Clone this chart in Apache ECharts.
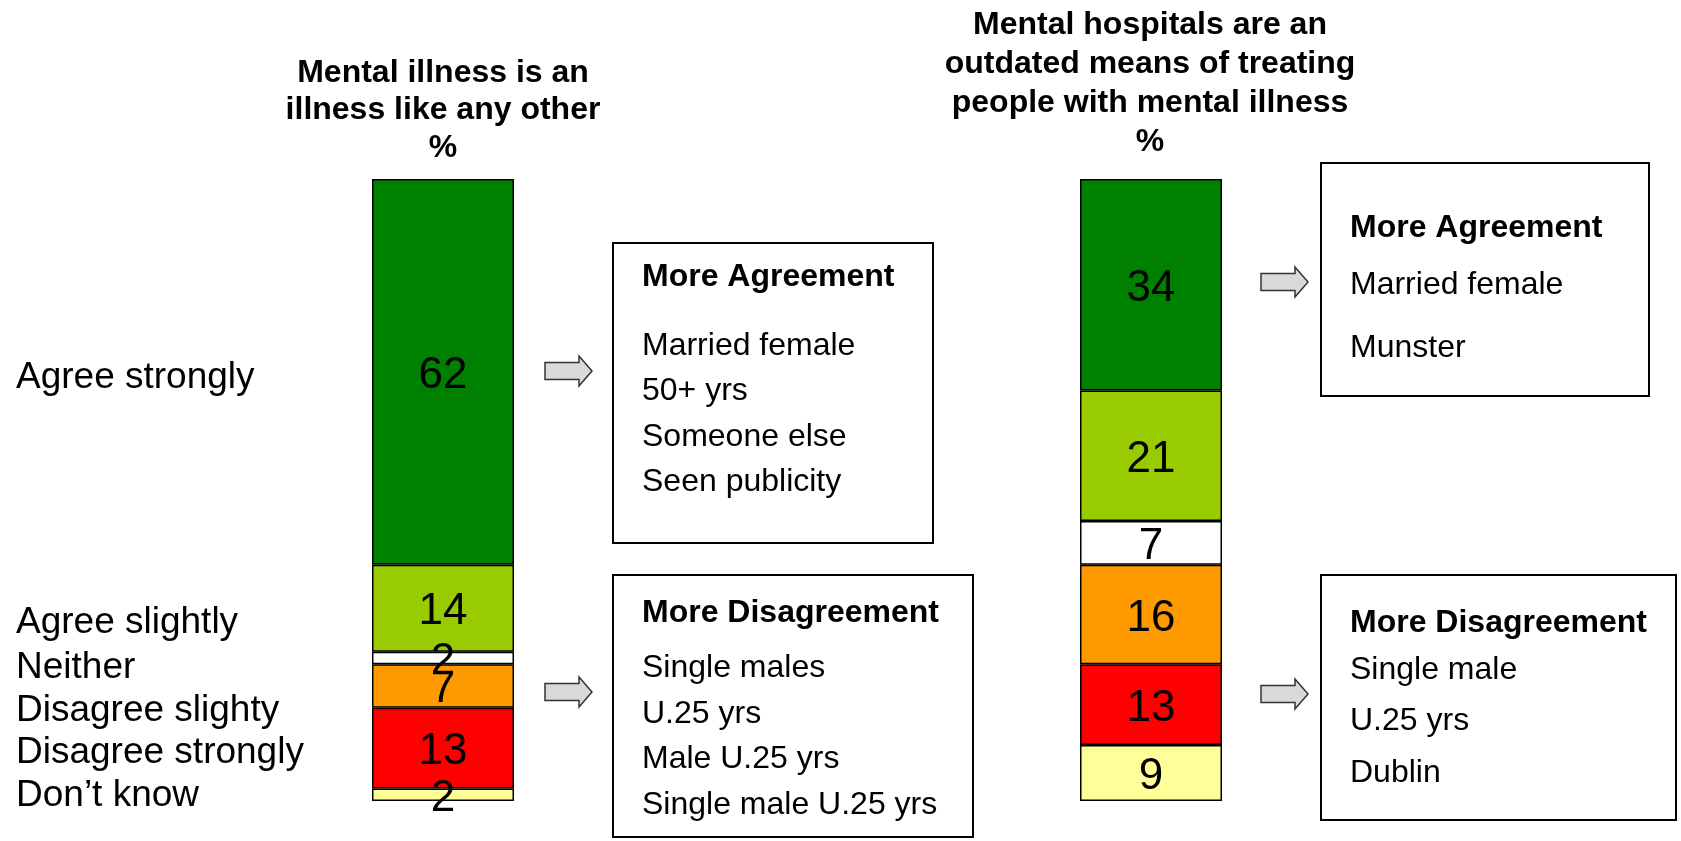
<!DOCTYPE html>
<html>
<head>
<meta charset="utf-8">
<title>Mental illness attitudes</title>
<script src="https://cdn.jsdelivr.net/npm/echarts@6/dist/echarts.min.js"></script>
<style>
  html, body { margin: 0; padding: 0; background: #fff; }
  #chart { width: 1681px; height: 841px; }
</style>
</head>
<body>
<div id="chart"></div>
<script>
// answer categories, top to bottom of each bar
const categories = ['Agree strongly', 'Agree slightly', 'Neither', 'Disagree slighty', 'Disagree strongly', 'Don’t know']
const illnessValues = [62, 14, 2, 7, 13, 2]
const hospitalValues = [34, 21, 7, 16, 13, 9]

const illnessTitle = ['Mental illness is an', 'illness like any other', '%']
const hospitalTitle = ['Mental hospitals are an', 'outdated means of treating', 'people with mental illness', '%']

const illnessAgree = ['Married female', '50+ yrs', 'Someone else', 'Seen publicity']
const illnessDisagree = ['Single males', 'U.25 yrs', 'Male U.25 yrs', 'Single male U.25 yrs']
const hospitalAgree = ['Married female', 'Munster']
const hospitalDisagree = ['Single male', 'U.25 yrs', 'Dublin']

const segmentColors = ['#008000', '#99cc00', '#ffffff', '#ff9900', '#ff0000', '#ffff99']
const FONT = '"Liberation Sans", Arial, sans-serif'
const DY = 3 // 'middle' sits a bit above the cap centre

const chart = echarts.init(document.getElementById('chart'), null, { renderer: 'canvas' })

const bars = [
  { values: illnessValues, left: 372 },
  { values: hospitalValues, left: 1080 }
]

const series = []
bars.forEach((b, g) => {
  categories.forEach((name, i) => {
    series.push({
      name: name,
      type: 'bar',
      stack: 'bar' + g,
      xAxisIndex: g,
      yAxisIndex: g,
      barWidth: '100%',
      data: [b.values[i]],
      itemStyle: { color: segmentColors[i], borderColor: '#000', borderWidth: 1.5 },
      label: {
        show: true,
        position: 'inside',
        offset: [0, 4],
        fontSize: 44,
        fontFamily: FONT,
        color: '#000'
      }
    })
  })
})

const graphics = []

const text = (str, x, y, size, bold, align) => {
  graphics.push({
    type: 'text',
    x: x,
    y: y + DY,
    style: {
      text: str,
      fill: '#000',
      font: (bold ? 'bold ' : '') + size + 'px ' + FONT,
      align: align || 'left',
      verticalAlign: 'middle'
    }
  })
}

// titles
const illnessTitleY = [70, 107, 145]
illnessTitle.forEach((t, i) => text(t, 443, illnessTitleY[i], 32, true, 'center'))
const hospitalTitleY = [22, 61, 100, 139]
hospitalTitle.forEach((t, i) => text(t, 1150, hospitalTitleY[i], 32, true, 'center'))

// row labels on the left
const rowLabelY = [375, 620, 665, 708, 750, 793]
categories.forEach((c, i) => text(c, 16, rowLabelY[i], 37, false))

// boxes
const box = (x, y, w, h, header, headerY, items, itemY) => {
  graphics.push({
    type: 'rect',
    shape: { x: x, y: y, width: w, height: h },
    style: { fill: '#fff', stroke: '#000', lineWidth: 2 }
  })
  text(header, x + 29, headerY, 32, true)
  items.forEach((t, i) => text(t, x + 29, itemY[i], 32, false))
}

box(613, 243, 320, 300, 'More Agreement', 274, illnessAgree, [343, 388, 434, 479])
box(613, 575, 360, 262, 'More Disagreement', 610, illnessDisagree, [665, 711, 756, 802])
box(1321, 163, 328, 233, 'More Agreement', 225, hospitalAgree, [282, 345])
box(1321, 575, 355, 245, 'More Disagreement', 620, hospitalDisagree, [667, 718, 770])

// block arrows
const arrow = (x0, cy) => {
  graphics.push({
    type: 'polygon',
    shape: {
      points: [
        [x0, cy - 8.5], [x0 + 34, cy - 8.5], [x0 + 34, cy - 15], [x0 + 47, cy],
        [x0 + 34, cy + 15], [x0 + 34, cy + 8.5], [x0, cy + 8.5]
      ]
    },
    style: { fill: '#d9d9d9', stroke: '#333', lineWidth: 1.5 }
  })
}
arrow(545, 371)
arrow(545, 692)
arrow(1261, 282)
arrow(1261, 694)

const option = {
  backgroundColor: '#fff',
  animation: false,
  grid: bars.map(b => ({ left: b.left, top: 179, width: 142, height: 622 })),
  xAxis: bars.map((b, g) => ({ type: 'category', gridIndex: g, data: [''], show: false })),
  yAxis: bars.map((b, g) => ({ type: 'value', gridIndex: g, min: 0, max: 100, inverse: true, show: false })),
  series: series,
  graphic: graphics
}

chart.setOption(option)
</script>
</body>
</html>
